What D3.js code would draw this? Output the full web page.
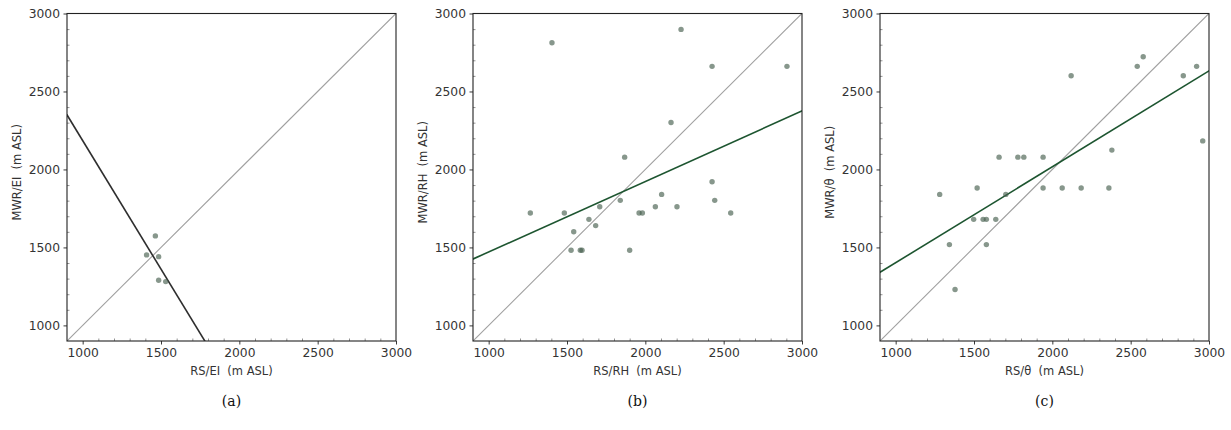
<!DOCTYPE html>
<html>
<head>
<meta charset="utf-8">
<script src="https://cdn.jsdelivr.net/npm/d3@7"></script>
<style>
  html, body { margin: 0; padding: 0; background: #fff; }
  svg { display: block; }
  text { white-space: pre; }
</style>
</head>
<body>
<svg id="chart" width="1231" height="430"></svg>
<script>
// Boundary-layer height: microwave radiometer (MWR) versus radiosonde (RS)
const panelIds = ["a", "b", "c"];
const xLabels = ["RS/EI  (m ASL)", "RS/RH  (m ASL)", "RS/\u03B8  (m ASL)"];
const yLabels = ["MWR/EI  (m ASL)", "MWR/RH  (m ASL)", "MWR/\u03B8  (m ASL)"];
const tickValues = [1000, 1500, 2000, 2500, 3000];
const axisDomain = [900, 3000];

// (a) elevated inversion
const rsEI  = [1464, 1408, 1485, 1485, 1530];
const mwrEI = [1574, 1452, 1441, 1290, 1281];

// (b) relative humidity gradient
const rsRH  = [1266, 1404, 1483, 1543, 1526, 1585, 1596, 1640, 1683, 1709, 1840, 1868, 1900,
               1960, 1981, 2064, 2104, 2164, 2202, 2228, 2426, 2426, 2443, 2545, 2904];
const mwrRH = [1721, 2812, 1721, 1601, 1482, 1482, 1482, 1680, 1640, 1761, 1802, 2079, 1482,
               1721, 1721, 1761, 1840, 2301, 1761, 2898, 1921, 2661, 1802, 1721, 2661];

// (c) potential temperature gradient
const rsTH  = [1281, 1343, 1379, 1498, 1520, 1558, 1579, 1579, 1639, 1660, 1703, 1780, 1818,
               1941, 1941, 2063, 2120, 2184, 2361, 2380, 2542, 2580, 2836, 2921, 2960];
const mwrTH = [1840, 1518, 1230, 1680, 1881, 1680, 1680, 1518, 1680, 2079, 1840, 2079, 2079,
               2079, 1881, 1881, 2601, 1881, 1881, 2124, 2661, 2723, 2601, 2661, 2183];

// linear fits (MWR = intercept + slope * RS)
const fitIntercept = [3833, 1019, 787];
const fitSlope = [-1.648, 0.452, 0.615];
const fitColors = ["#2e2e2e", "#1d5530", "#1d5530"];

const xSeries = [rsEI, rsRH, rsTH];
const ySeries = [mwrEI, mwrRH, mwrTH];

const svg = d3.select("#chart");
const panelLeft = [67, 473, 880];
const plotW = 329, plotTop = 13.5, plotH = 327.5;
const fontSans = "'DejaVu Sans', sans-serif";
const textColor = "#333";
const fmt = d3.format("d");

panelIds.forEach((id, i) => {
  const g = svg.append("g").attr("transform", `translate(${panelLeft[i]},${plotTop})`);
  const x = d3.scaleLinear().domain(axisDomain).range([0, plotW]);
  const y = d3.scaleLinear().domain(axisDomain).range([plotH, 0]);

  const clipId = "clip-" + id;
  g.append("clipPath").attr("id", clipId)
    .append("rect").attr("width", plotW).attr("height", plotH);

  const plot = g.append("g").attr("clip-path", `url(#${clipId})`);

  // 1:1 reference line
  plot.append("line")
    .attr("x1", x(axisDomain[0])).attr("y1", y(axisDomain[0]))
    .attr("x2", x(axisDomain[1])).attr("y2", y(axisDomain[1]))
    .attr("stroke", "#a0a0a0").attr("stroke-width", 1.1);

  // regression line
  const fitLine = d3.line().x(d => x(d)).y(d => y(fitIntercept[i] + fitSlope[i] * d));
  plot.append("path")
    .datum([0, 4000])
    .attr("d", fitLine)
    .attr("fill", "none")
    .attr("stroke", fitColors[i])
    .attr("stroke-width", 1.6);

  // scatter points
  plot.selectAll("circle.pt")
    .data(xSeries[i].map((v, k) => [v, ySeries[i][k]]))
    .join("circle")
    .attr("class", "pt")
    .attr("cx", d => x(d[0]))
    .attr("cy", d => y(d[1]))
    .attr("r", 2.7)
    .attr("fill", "#46604e")
    .attr("fill-opacity", 0.65);

  // minor ticks (inward)
  const minor = d3.range(1000, 3000, 100).filter(v => v % 500 !== 0);
  g.append("g").attr("transform", `translate(0,${plotH})`)
    .call(d3.axisBottom(x).tickValues(minor).tickSize(-2.5).tickFormat(""))
    .call(s => s.select(".domain").remove())
    .selectAll("line").attr("stroke", "#666").attr("stroke-width", 0.7);
  g.append("g")
    .call(d3.axisLeft(y).tickValues(minor).tickSize(-2.5).tickFormat(""))
    .call(s => s.select(".domain").remove())
    .selectAll("line").attr("stroke", "#666").attr("stroke-width", 0.7);

  // major axes
  const xAxis = g.append("g").attr("transform", `translate(0,${plotH})`)
    .call(d3.axisBottom(x).tickValues(tickValues).tickFormat(fmt).tickSize(3.5).tickPadding(3.5));
  const yAxis = g.append("g")
    .call(d3.axisLeft(y).tickValues(tickValues).tickFormat(fmt).tickSize(3.5).tickPadding(3.5));
  [xAxis, yAxis].forEach(ax => {
    ax.select(".domain").remove();
    ax.selectAll("line").attr("stroke", "#222").attr("stroke-width", 0.9);
    ax.selectAll("text").attr("font-family", fontSans).attr("font-size", 12.3).attr("fill", textColor);
  });

  // frame
  g.append("rect")
    .attr("width", plotW).attr("height", plotH)
    .attr("fill", "none").attr("stroke", "#222").attr("stroke-width", 1.1);

  // axis titles
  g.append("text")
    .attr("x", plotW / 2).attr("y", plotH + 34)
    .attr("text-anchor", "middle")
    .attr("font-family", fontSans).attr("font-size", 11.5)
    .attr("fill", textColor)
    .text(xLabels[i]);
  g.append("text")
    .attr("transform", `translate(${-46},${plotH / 2 - 5}) rotate(-90)`)
    .attr("text-anchor", "middle")
    .attr("font-family", fontSans).attr("font-size", 11.5)
    .attr("fill", textColor)
    .text(yLabels[i]);

  // sub-figure caption
  svg.append("text")
    .attr("x", panelLeft[i] + plotW / 2).attr("y", 406)
    .attr("text-anchor", "middle")
    .attr("font-family", "'DejaVu Serif', 'Liberation Serif', serif")
    .attr("font-size", 14)
    .attr("fill", "#111")
    .text(`(${id})`);
});
</script>
</body>
</html>
